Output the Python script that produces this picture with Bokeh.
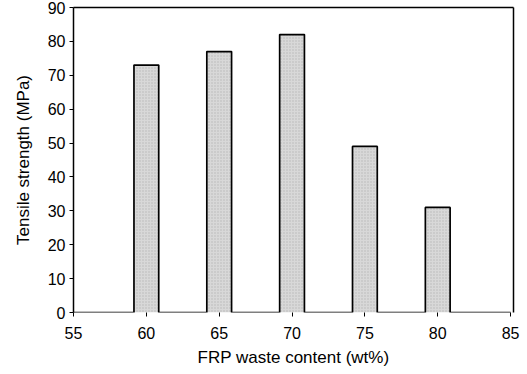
from bokeh.plotting import figure
from bokeh.models import Range1d, FixedTicker, LinearAxis
from bokeh.embed import file_html
from bokeh.resources import INLINE

# Data
frp_content = [60, 65, 70, 75, 80]
tensile_strength = [73, 77, 82, 49, 31]
x_ticks = [55, 60, 65, 70, 75, 80, 85]
y_ticks = [0, 10, 20, 30, 40, 50, 60, 70, 80, 90]
bar_width = 1.7

FONT = "Liberation Sans"

p = figure(width=527, height=374, output_backend="svg", toolbar_location=None,
           x_range=Range1d(55, 85.2), y_range=Range1d(0, 90))
p.min_border = 0
p.min_border_left = 73
p.min_border_right = 14
p.min_border_top = 7
p.min_border_bottom = 62

p.grid.visible = False
p.outline_line_color = None

# Bars without outline
p.vbar(x=frp_content, top=tensile_strength, width=bar_width, bottom=0,
       fill_color="#d8d8d8", line_color=None,
       hatch_pattern="dot", hatch_color="#a0a0a0", hatch_scale=3, hatch_alpha=0.6)

# Outline as a step path built from the data
xs = [x_ticks[0]]
ys = [0]
for c, h in zip(frp_content, tensile_strength):
    l, r = c - bar_width / 2, c + bar_width / 2
    xs += [l, l, r, r]
    ys += [0, h, h, 0]
xs.append(x_ticks[-1])
ys.append(0)
p.line(xs, ys, line_color="black", line_width=1.7)

for ax in (p.xaxis, p.yaxis):
    ax.major_label_text_font = FONT
    ax.major_label_text_font_size = "16px"
    ax.major_label_text_color = "black"
    ax.axis_label_text_font = FONT
    ax.axis_label_text_font_size = "17px"
    ax.axis_label_text_font_style = "normal"
    ax.axis_label_text_color = "black"
    ax.minor_tick_line_color = None
    ax.major_tick_line_color = "black"
    ax.major_tick_out = 4
    ax.major_tick_in = 0
    ax.axis_line_color = "black"
    ax.axis_line_width = 1.5

p.xaxis.ticker = FixedTicker(ticks=x_ticks)
p.yaxis.ticker = FixedTicker(ticks=y_ticks)
p.xaxis.axis_label = "FRP waste content (wt%)"
p.yaxis.axis_label = "Tensile strength (MPa)"
p.xaxis.axis_line_color = None
p.xaxis.major_label_standoff = 10
p.yaxis.major_label_standoff = 4
p.xaxis.axis_label_standoff = 6
p.yaxis.axis_label_standoff = 12

# Top and right frame lines
for loc in ("above", "right"):
    a = LinearAxis(ticker=FixedTicker(ticks=[]), major_label_text_font_size="0px",
                   axis_line_color="black", axis_line_width=1.5,
                   major_tick_line_color=None, minor_tick_line_color=None)
    p.add_layout(a, loc)

open("out.html", "w").write(file_html(p, INLINE))
